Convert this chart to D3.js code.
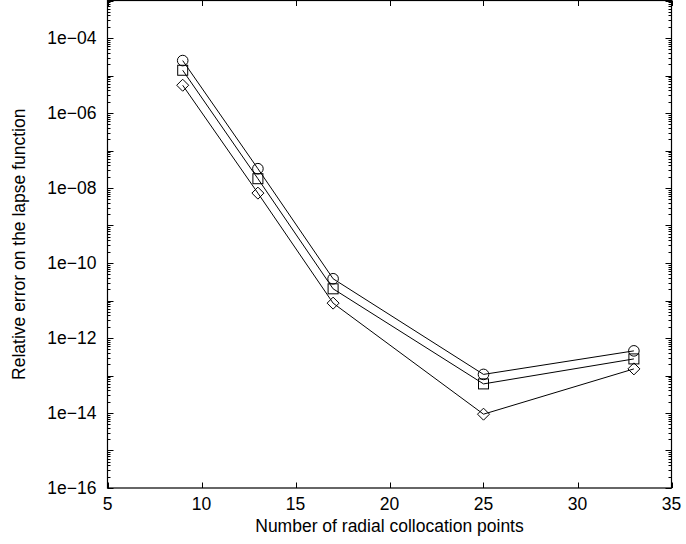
<!DOCTYPE html>
<html>
<head>
<meta charset="utf-8">
<script src="https://cdn.jsdelivr.net/npm/d3@7"></script>
<style>
  html, body { margin: 0; padding: 0; background: #fff; }
  svg { display: block; }
  text { font-family: "Liberation Sans", Arial, sans-serif; fill: #000; }
</style>
</head>
<body>
<svg id="chart" width="686" height="544"></svg>
<script>
// ---- Data ----
const points = [9, 13, 17, 25, 33];
const circleSeries  = [2.5e-5, 3.27e-8, 3.8e-11, 1.07e-13, 4.54e-13];
const squareSeries  = [1.38e-5, 1.77e-8, 2.05e-11, 5.97e-14, 2.77e-13];
const diamondSeries = [5.5e-6, 7.3e-9, 8.5e-12, 9.3e-15, 1.5e-13];
const xTicks = [5, 10, 15, 20, 25, 30, 35];
const yLabelExps = [-16, -14, -12, -10, -8, -6, -4];
const xTitle = "Number of radial collocation points";
const yTitle = "Relative error on the lapse function";

// ---- Layout ----
const svg = d3.select("#chart");
const L = 107.5, R = 671.5, T = 0.5, B = 488;
const fontSize = 17.5;

const x = d3.scaleLinear().domain([5, 35]).range([L, R]);
const y = d3.scaleLog().domain([1e-16, 1e-3]).range([B, T]);

const g = svg.append("g");

// frame
g.append("rect")
  .attr("x", L).attr("y", T)
  .attr("width", R - L).attr("height", B - T)
  .attr("fill", "none").attr("stroke", "#000").attr("stroke-width", 1.2);

// y ticks (major each decade, minor 2..9), both sides, inward
const majorY = d3.range(-16, -2).map(e => Math.pow(10, e));
const minorY = [];
d3.range(-16, -3).forEach(e => { for (let k = 2; k <= 9; k++) minorY.push(k * Math.pow(10, e)); });

function yTick(v, len) {
  const yy = Math.round(y(v)) + 0.5;
  g.append("line").attr("x1", L).attr("x2", L + len).attr("y1", yy).attr("y2", yy)
    .attr("stroke", "#000").attr("stroke-width", 1);
  g.append("line").attr("x1", R).attr("x2", R - len).attr("y1", yy).attr("y2", yy)
    .attr("stroke", "#000").attr("stroke-width", 1);
}
majorY.forEach(v => yTick(v, 6));
minorY.forEach(v => yTick(v, 3));

// y labels
yLabelExps.forEach(e => {
  const s = "1e" + (e < 0 ? "\u2212" : "") + String(Math.abs(e)).padStart(2, "0");
  g.append("text")
    .attr("x", L - 11).attr("y", y(Math.pow(10, e)))
    .attr("dy", "0.36em")
    .attr("text-anchor", "end")
    .attr("font-size", fontSize)
    .text(s);
});

// x ticks top/bottom inward
xTicks.forEach(t => {
  const xx = Math.round(x(t)) + 0.5;
  g.append("line").attr("x1", xx).attr("x2", xx).attr("y1", B).attr("y2", B - 5.5)
    .attr("stroke", "#000").attr("stroke-width", 1);
  g.append("line").attr("x1", xx).attr("x2", xx).attr("y1", T).attr("y2", T + 5.5)
    .attr("stroke", "#000").attr("stroke-width", 1);
  g.append("text")
    .attr("x", x(t)).attr("y", 510)
    .attr("text-anchor", "middle")
    .attr("font-size", fontSize)
    .text(t);
});

// titles
g.append("text")
  .attr("x", (L + R) / 2).attr("y", 532)
  .attr("text-anchor", "middle")
  .attr("font-size", fontSize)
  .text(xTitle);

g.append("text")
  .attr("transform", `translate(25,${(T + B) / 2}) rotate(-90)`)
  .attr("text-anchor", "middle")
  .attr("font-size", fontSize)
  .text(yTitle);

// series
const line = d3.line().x(d => x(d[0])).y(d => y(d[1]));
const series = [
  { vals: circleSeries, marker: "circle" },
  { vals: squareSeries, marker: "square" },
  { vals: diamondSeries, marker: "diamond" }
];

series.forEach(s => {
  const data = points.map((p, i) => [p, s.vals[i]]);
  g.append("path").datum(data)
    .attr("d", line)
    .attr("fill", "none").attr("stroke", "#000").attr("stroke-width", 1);
});

series.forEach(s => {
  const data = points.map((p, i) => [p, s.vals[i]]);
  const mg = g.append("g");
  data.forEach(d => {
    const cx = x(d[0]), cy = y(d[1]);
    if (s.marker === "circle") {
      mg.append("circle").attr("cx", cx).attr("cy", cy).attr("r", 5.3)
        .attr("fill", "none").attr("stroke", "#000").attr("stroke-width", 1);
    } else if (s.marker === "square") {
      mg.append("rect").attr("x", cx - 5).attr("y", cy - 5).attr("width", 10).attr("height", 10)
        .attr("fill", "none").attr("stroke", "#000").attr("stroke-width", 1);
    } else {
      const h = 6;
      mg.append("path")
        .attr("d", `M${cx},${cy - h}L${cx + h},${cy}L${cx},${cy + h}L${cx - h},${cy}Z`)
        .attr("fill", "none").attr("stroke", "#000").attr("stroke-width", 1);
    }
  });
});
</script>
</body>
</html>
